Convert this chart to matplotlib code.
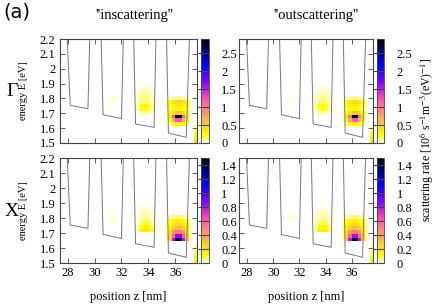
import numpy as np
import matplotlib
matplotlib.use("Agg")
import matplotlib.pyplot as plt
from matplotlib.ticker import FormatStrFormatter

plt.rcParams['font.family'] = ['Liberation Serif', 'DejaVu Serif']
plt.rcParams['mathtext.fontset'] = 'stix'

# band profile (gray line), same in every panel
prof_z = [27.93, 28.18, 29.50, 29.65, 30.47, 30.63, 32.00, 32.15, 32.90, 33.05, 34.43, 34.58, 35.35, 35.50, 36.83, 37.08]
prof_E = [2.25, 1.753, 1.731, 2.25, 2.25, 1.690, 1.664, 2.25, 2.25, 1.628, 1.605, 2.25, 2.25, 1.567, 1.538, 2.25]

# scattering rate patches: values top row -> bottom row
# Gamma, inscattering
g_in_w4 = [[0.02, 0.06, 0.10, 0.12, 0.12, 0.10, 0.05, 0.02],
           [0.06, 0.25, 0.40, 0.48, 0.48, 0.40, 0.25, 0.06],
           [0.05, 0.20, 0.30, 0.35, 0.35, 0.30, 0.20, 0.05],
           [0.04, 0.15, 0.24, 0.28, 0.28, 0.24, 0.15, 0.04],
           [0.04, 0.25, 0.45, 0.62, 0.62, 0.45, 0.25, 0.04],
           [0.04, 0.40, 1.10, 2.85, 2.70, 1.10, 0.40, 0.04],
           [0.03, 0.25, 0.70, 1.20, 1.20, 0.70, 0.25, 0.03],
           [0.02, 0.10, 0.22, 0.30, 0.30, 0.22, 0.10, 0.02]]
g_in_w3 = [[0.00, 0.02, 0.03, 0.04, 0.03, 0.02, 0.00],
           [0.01, 0.03, 0.06, 0.08, 0.06, 0.03, 0.01],
           [0.01, 0.05, 0.08, 0.10, 0.08, 0.05, 0.01],
           [0.02, 0.06, 0.11, 0.13, 0.11, 0.06, 0.02],
           [0.02, 0.08, 0.13, 0.16, 0.13, 0.08, 0.02],
           [0.03, 0.12, 0.26, 0.34, 0.26, 0.12, 0.03],
           [0.02, 0.10, 0.21, 0.26, 0.21, 0.10, 0.02],
           [0.01, 0.04, 0.06, 0.08, 0.06, 0.04, 0.01]]
g_in_w2 = [[0.01, 0.02, 0.02, 0.01],
           [0.02, 0.04, 0.04, 0.02],
           [0.01, 0.02, 0.02, 0.01]]
g_in_edge = [[0.05], [0.15], [0.25], [0.35], [0.45]]

# Gamma, outscattering
g_out_w4 = [[0.02, 0.06, 0.10, 0.12, 0.12, 0.10, 0.05, 0.02],
            [0.06, 0.24, 0.38, 0.45, 0.45, 0.38, 0.24, 0.06],
            [0.05, 0.18, 0.28, 0.33, 0.33, 0.28, 0.18, 0.05],
            [0.04, 0.14, 0.22, 0.26, 0.26, 0.22, 0.14, 0.04],
            [0.04, 0.24, 0.44, 0.60, 0.60, 0.44, 0.24, 0.04],
            [0.04, 0.38, 1.05, 2.80, 2.65, 1.05, 0.38, 0.04],
            [0.03, 0.24, 0.68, 1.15, 1.15, 0.68, 0.24, 0.03],
            [0.02, 0.10, 0.21, 0.28, 0.28, 0.21, 0.10, 0.02]]
g_out_w3 = [[0.00, 0.01, 0.03, 0.04, 0.03, 0.01, 0.00],
            [0.01, 0.03, 0.05, 0.07, 0.05, 0.03, 0.01],
            [0.01, 0.04, 0.07, 0.09, 0.07, 0.04, 0.01],
            [0.02, 0.05, 0.10, 0.12, 0.10, 0.05, 0.02],
            [0.02, 0.07, 0.12, 0.15, 0.12, 0.07, 0.02],
            [0.02, 0.10, 0.23, 0.30, 0.23, 0.10, 0.02],
            [0.02, 0.08, 0.19, 0.23, 0.19, 0.08, 0.02],
            [0.01, 0.03, 0.06, 0.07, 0.06, 0.03, 0.01]]
g_out_w2 = [[0.01, 0.02, 0.02, 0.01],
            [0.01, 0.03, 0.03, 0.01],
            [0.01, 0.02, 0.02, 0.01]]
g_out_edge = [[0.05], [0.12], [0.22], [0.32], [0.42]]

# X, inscattering
x_in_w4 = [[0.02, 0.04, 0.06, 0.08, 0.08, 0.06, 0.04, 0.02],
           [0.04, 0.10, 0.16, 0.18, 0.18, 0.16, 0.10, 0.04],
           [0.04, 0.13, 0.20, 0.23, 0.23, 0.20, 0.13, 0.04],
           [0.05, 0.18, 0.28, 0.33, 0.33, 0.28, 0.18, 0.05],
           [0.05, 0.23, 0.43, 0.53, 0.53, 0.43, 0.23, 0.05],
           [0.05, 0.28, 0.60, 0.85, 0.85, 0.60, 0.28, 0.05],
           [0.04, 0.28, 0.80, 1.45, 1.40, 0.80, 0.28, 0.04]]
x_in_w3 = [[0.00, 0.01, 0.02, 0.02, 0.02, 0.01, 0.00],
           [0.01, 0.02, 0.03, 0.04, 0.03, 0.02, 0.01],
           [0.01, 0.02, 0.04, 0.05, 0.04, 0.02, 0.01],
           [0.01, 0.03, 0.05, 0.06, 0.05, 0.03, 0.01],
           [0.01, 0.05, 0.09, 0.10, 0.09, 0.05, 0.01],
           [0.02, 0.08, 0.14, 0.16, 0.14, 0.08, 0.02],
           [0.02, 0.10, 0.18, 0.20, 0.18, 0.10, 0.02]]
x_in_w2 = [[0.01, 0.01, 0.01, 0.01],
           [0.01, 0.02, 0.02, 0.01],
           [0.01, 0.02, 0.02, 0.01]]
x_in_edge = [[0.03], [0.06], [0.09], [0.12], [0.15]]

# X, outscattering
x_out_w4 = [[0.02, 0.04, 0.06, 0.08, 0.08, 0.06, 0.04, 0.02],
            [0.04, 0.10, 0.15, 0.17, 0.17, 0.15, 0.10, 0.04],
            [0.04, 0.12, 0.19, 0.22, 0.22, 0.19, 0.12, 0.04],
            [0.05, 0.17, 0.27, 0.32, 0.32, 0.27, 0.17, 0.05],
            [0.05, 0.22, 0.42, 0.52, 0.52, 0.42, 0.22, 0.05],
            [0.05, 0.28, 0.58, 0.82, 0.82, 0.58, 0.28, 0.05],
            [0.04, 0.28, 0.78, 1.42, 1.38, 0.78, 0.28, 0.04]]
x_out_w3 = [[0.00, 0.01, 0.01, 0.02, 0.01, 0.01, 0.00],
            [0.01, 0.02, 0.03, 0.04, 0.03, 0.02, 0.01],
            [0.01, 0.02, 0.04, 0.05, 0.04, 0.02, 0.01],
            [0.01, 0.03, 0.05, 0.06, 0.05, 0.03, 0.01],
            [0.01, 0.04, 0.08, 0.09, 0.08, 0.04, 0.01],
            [0.02, 0.07, 0.13, 0.15, 0.13, 0.07, 0.02],
            [0.02, 0.09, 0.16, 0.18, 0.16, 0.09, 0.02]]
x_out_w2 = [[0.00, 0.01, 0.01, 0.00],
            [0.01, 0.02, 0.02, 0.01],
            [0.00, 0.01, 0.01, 0.00]]
x_out_edge = [[0.03], [0.05], [0.08], [0.11], [0.14]]

# patch extents (z0, z1, E0, E1)
g_ext = {'w4': (35.25, 37.25, 1.615, 1.815), 'w3': (32.90, 34.65, 1.69, 1.89),
         'w2': (30.90, 31.90, 1.76, 1.835), 'edge': (37.40, 37.80, 1.50, 1.625)}
x_ext = {'w4': (35.25, 37.25, 1.645, 1.82), 'w3': (32.95, 34.70, 1.705, 1.88),
         'w2': (30.90, 31.90, 1.765, 1.84), 'edge': (37.40, 37.80, 1.50, 1.625)}

panels = [
    ('g', 'in', {'w4': g_in_w4, 'w3': g_in_w3, 'w2': g_in_w2, 'edge': g_in_edge}),
    ('g', 'out', {'w4': g_out_w4, 'w3': g_out_w3, 'w2': g_out_w2, 'edge': g_out_edge}),
    ('x', 'in', {'w4': x_in_w4, 'w3': x_in_w3, 'w2': x_in_w2, 'edge': x_in_edge}),
    ('x', 'out', {'w4': x_out_w4, 'w3': x_out_w3, 'w2': x_out_w2, 'edge': x_out_edge}),
]
vmax = {'g': 2.9, 'x': 1.5}
cticks = {'g': [0, 0.5, 1, 1.5, 2, 2.5], 'x': [0, 0.2, 0.4, 0.6, 0.8, 1, 1.2, 1.4]}
yticks = [1.5, 1.6, 1.7, 1.8, 1.9, 2.0, 2.1, 2.2]
xticks = [28, 30, 32, 34, 36]

W, H = 436, 305
fig = plt.figure(figsize=(W / 100, H / 100), dpi=100)
cmap = plt.get_cmap('gnuplot2_r')

def rect(x0, y0, x1, y1):
    return [x0 / W, 1 - y1 / H, (x1 - x0) / W, (y1 - y0) / H]

boxes = {('g', 'in'): (59.5, 39, 197, 143), ('g', 'out'): (239, 39, 373, 143),
         ('x', 'in'): (59.5, 158, 197, 263), ('x', 'out'): (239, 158, 373, 263)}
cboxes = {'in': (200.5, 208.5), 'out': (376.5, 384)}

for row, col, data in panels:
    x0, y0, x1, y1 = boxes[(row, col)]
    ax = fig.add_axes(rect(x0, y0, x1, y1))
    ext = g_ext if row == 'g' else x_ext
    mesh = None
    for key, vals in data.items():
        v = np.array(vals)[::-1]
        z0, z1, e0, e1 = ext[key]
        ze = np.linspace(z0, z1, v.shape[1] + 1)
        ee = np.linspace(e0, e1, v.shape[0] + 1)
        mesh = ax.pcolormesh(ze, ee, v, cmap=cmap, vmin=0, vmax=vmax[row], shading='flat')
    ax.plot(prof_z, prof_E, color='#777777', lw=0.7)
    ax.set_xlim(27.38, 37.63)
    ax.set_ylim(1.5, 2.2)
    ax.set_xticks(xticks)
    ax.set_yticks(yticks)
    ax.yaxis.set_major_formatter(FormatStrFormatter('%g'))
    ax.tick_params(direction='in', top=True, right=True, length=3.5, width=0.6,
                   color='#444444', labelsize=9, pad=3)
    if col == 'out':
        ax.tick_params(labelleft=False)
    if row == 'g':
        ax.tick_params(labelbottom=False)
    else:
        fig.text((x0 + x1) / 2 / W, 1 - 297 / H, 'position z [nm]', ha='center', va='center',
                 fontsize=9)
    for s in ax.spines.values():
        s.set_color('#444444')
        s.set_linewidth(0.8)
    if col == 'in':
        fig.text(24 / W, 1 - (y0 + y1) / 2 / H, 'energy E [eV]', rotation=90, ha='center',
                 va='center', fontsize=7.5)

    c0, c1 = cboxes[col]
    cax = fig.add_axes(rect(c0, y0, c1, y1))
    cb = fig.colorbar(mesh, cax=cax)
    cb.set_ticks(cticks[row])
    cb.ax.yaxis.set_major_formatter(FormatStrFormatter('%g'))
    cb.ax.tick_params(direction='in', length=8, width=0.8, color='#444444',
                      labelsize=9, pad=9)
    cb.outline.set_edgecolor('#444444')
    cb.outline.set_linewidth(0.6)

fig.text(3 / W, 1 - 2 / H, '(a)', ha='left', va='top', fontsize=14, family='DejaVu Sans')
fig.text(134 / W, 1 - 15 / H, "''inscattering''", ha='center', va='center', fontsize=10.5)
fig.text(316 / W, 1 - 15 / H, "''outscattering''", ha='center', va='center', fontsize=10.5)
fig.text(12 / W, 1 - 92 / H, '\u0393', ha='center', va='center', fontsize=14)
fig.text(12 / W, 1 - 212 / H, 'X', ha='center', va='center', fontsize=14)
fig.text(426 / W, 1 - 140 / H,
         r'scattering rate [10$^{6}$ s$^{-1}$m$^{-3}$(eV)$^{-1}$]',
         rotation=90, ha='center', va='center', fontsize=8.5)

fig.savefig('out.png', dpi=100)
